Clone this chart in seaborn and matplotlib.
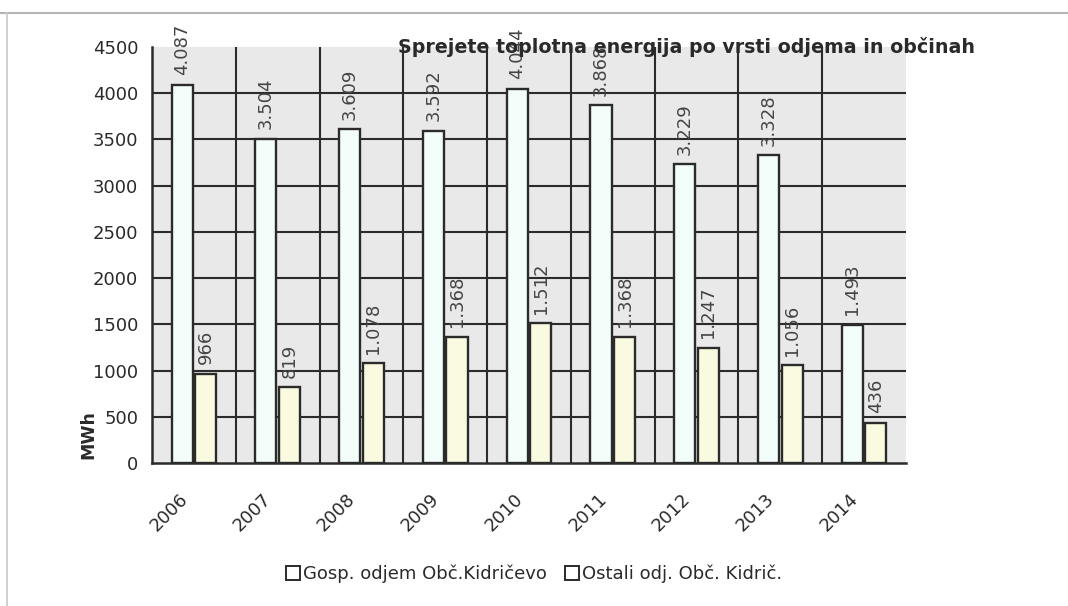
import matplotlib
matplotlib.use("Agg")
import matplotlib.pyplot as plt
from matplotlib.patches import Patch
from matplotlib.lines import Line2D
from matplotlib.transforms import ScaledTranslation
import seaborn as sns
import pandas as pd

# Delivered heat energy by consumer type (MWh)
years = ["2006", "2007", "2008", "2009", "2010", "2011", "2012", "2013", "2014"]
gosp_odjem = [4087, 3504, 3609, 3592, 4044, 3868, 3229, 3328, 1493]
ostali_odj = [966, 819, 1078, 1368, 1512, 1368, 1247, 1056, 436]
series_names = ["Gosp. odjem Obč.Kidričevo", "Ostali odj. Obč. Kidrič."]
y_ticks = [0, 500, 1000, 1500, 2000, 2500, 3000, 3500, 4000, 4500]
title = "Sprejete toplotna energija po vrsti odjema in občinah"

df = pd.DataFrame({
    "leto": years * 2,
    "MWh": gosp_odjem + ostali_odj,
    "serija": [series_names[0]] * len(years) + [series_names[1]] * len(years),
})

sns.set_theme(style="white")
plt.rcParams["font.family"] = ["DejaVu Sans"]

W, H = 1068, 606
fig = plt.figure(figsize=(W / 100, H / 100), dpi=100)
ax = fig.add_axes([152 / W, 1 - 463 / H, (906 - 152) / W, (463 - 47) / H])

dark = "#2b2b2b"
palette = {series_names[0]: "#f3fdfa", series_names[1]: "#f9fadf"}

sns.barplot(data=df, x="leto", y="MWh", hue="serija", palette=palette,
            width=0.56, gap=0.1, edgecolor=dark, linewidth=1.7,
            saturation=1, ax=ax, legend=False, zorder=3)

# value labels with dot as thousands separator
for cont in ax.containers:
    labels = [f"{v:,.0f}".replace(",", ".") for v in cont.datavalues]
    ax.bar_label(cont, labels=labels, rotation=90, padding=7,
                 fontsize=13, color="#454545", zorder=5)

ax.set_facecolor("#e9e9e9")
ax.set_xlim(-0.5, len(years) - 0.5)
ax.set_ylim(0, 4500)
ax.set_yticks(y_ticks)
ax.set_yticklabels([str(t) for t in y_ticks], fontsize=13, color="#2a2a2a")

# category boundaries as major ticks, year labels on minor ticks
ax.set_xticks([i - 0.5 for i in range(len(years) + 1)])
ax.set_xticklabels([])
ax.set_xticks(range(len(years)), minor=True)
ax.set_xticklabels(years, minor=True, rotation=45, ha="right", va="center",
                   rotation_mode="anchor", fontsize=13, color="#2a2a2a")
ax.tick_params(axis="x", which="minor", length=0, pad=24)
shift = ScaledTranslation(-9 / 100, 0, fig.dpi_scale_trans)
for lbl in ax.get_xticklabels(minor=True):
    lbl.set_transform(lbl.get_transform() + shift)
ax.tick_params(axis="x", which="major", direction="out", length=7,
               width=1.6, color=dark)
ax.tick_params(axis="y", direction="out", length=7, width=1.6, color=dark, pad=3)

ax.grid(True, which="major", color=dark, linewidth=1.5)
ax.set_axisbelow(True)
ax.get_xgridlines()[-1].set_visible(False)
ax.get_ygridlines()[-1].set_visible(False)
ax.get_xgridlines()[0].set_visible(False)
ax.get_ygridlines()[0].set_visible(False)

for side in ["top", "right"]:
    ax.spines[side].set_visible(False)
for side in ["left", "bottom"]:
    ax.spines[side].set_color(dark)
    ax.spines[side].set_linewidth(1.8)

ax.set_xlabel("")
ax.set_ylabel("")
fig.text(88 / W, 1 - 435 / H, "MWh", rotation=90, fontsize=12.5,
         fontweight="bold", color="#2a2a2a", ha="center", va="center")

fig.text(398 / W, 1 - 47 / H, title, fontsize=13.7, fontweight="bold",
         color="#2a2a2a", ha="left", va="center", zorder=6)

handles = [Patch(facecolor="white", edgecolor=dark, linewidth=1.4)
           for _ in series_names]
fig.legend(handles, series_names, loc="center", bbox_to_anchor=(534 / W, 1 - 574 / H),
           ncol=2, frameon=False, fontsize=13, handlelength=0.8,
           handleheight=0.8, handletextpad=0.15, columnspacing=1.0,
           labelcolor="#2a2a2a")

# thin page border at the top and left
fig.add_artist(Line2D([0, 1], [1 - 13 / H, 1 - 13 / H], transform=fig.transFigure,
                      color="#b5b5b5", linewidth=1.5))
fig.add_artist(Line2D([7 / W, 7 / W], [0, 1 - 13 / H], transform=fig.transFigure,
                      color="#c8c8c8", linewidth=1.2))

fig.savefig("out.png", dpi=100, facecolor="white")
